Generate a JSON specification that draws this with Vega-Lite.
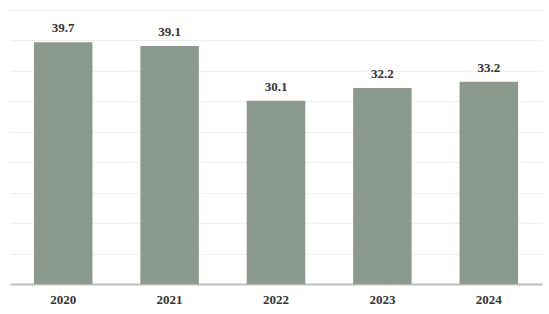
{
  "$schema": "https://vega.github.io/schema/vega-lite/v6.json",
  "width": 532,
  "height": 274,
  "autosize": {"type": "none"},
  "padding": {"left": 10, "top": 10, "right": 7, "bottom": 30},
  "background": "white",
  "config": {"view": {"stroke": null}, "font": "Times New Roman"},
  "data": {"values": [
    {"year": "2020", "value": 39.7},
    {"year": "2021", "value": 39.1},
    {"year": "2022", "value": 30.1},
    {"year": "2023", "value": 32.2},
    {"year": "2024", "value": 33.2}
  ]},
  "encoding": {
    "x": {"field": "year", "type": "ordinal", "sort": null,
      "scale": {"paddingInner": 0.45, "paddingOuter": 0.225},
      "axis": {"title": null, "labelAngle": 0, "ticks": false, "domainColor": "#bdbdbd", "domainWidth": 2,
        "labelFont": "Times New Roman", "labelFontWeight": "bold", "labelFontSize": 13, "labelColor": "#333333", "labelPadding": 9, "grid": false}},
    "y": {"field": "value", "type": "quantitative",
      "scale": {"domain": [0, 45], "nice": false},
      "axis": {"title": null, "labels": false, "ticks": false, "domain": false, "values": [0,5,10,15,20,25,30,35,40,45], "gridColor": "#eeeeee", "gridWidth": 1}}
  },
  "layer": [
    {"mark": {"type": "bar", "color": "#8a9a8f"}},
    {"mark": {"type": "text", "baseline": "alphabetic", "dy": -10, "font": "Times New Roman", "fontWeight": "bold", "fontSize": 13, "color": "#333333"},
     "encoding": {"text": {"field": "value", "type": "quantitative", "format": ".1f"}}}
  ]
}
